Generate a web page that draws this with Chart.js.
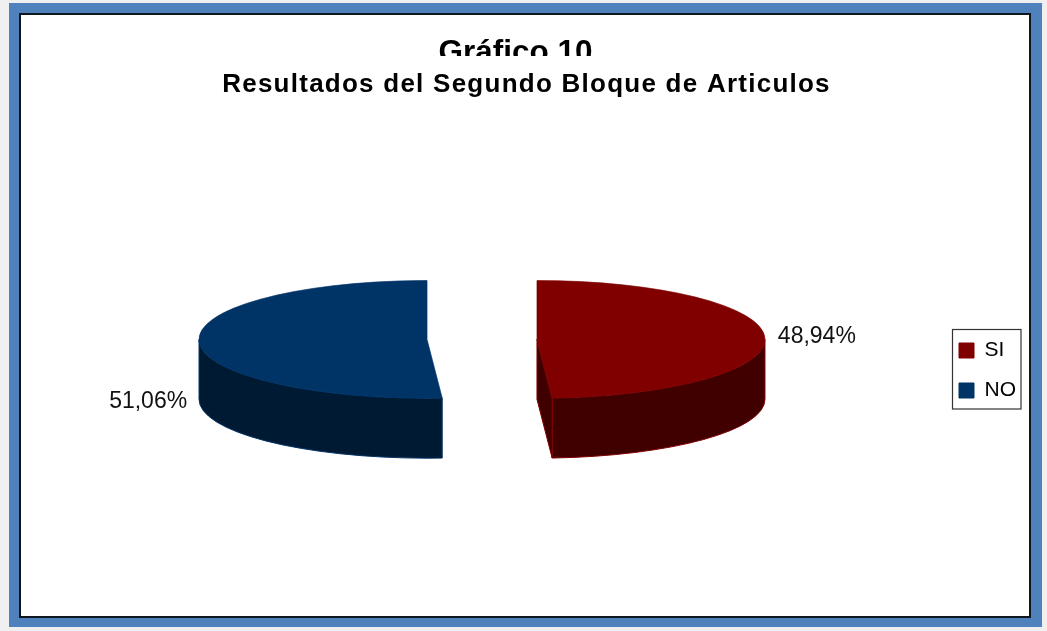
<!DOCTYPE html>
<html>
<head>
<meta charset="utf-8">
<script src="https://cdn.jsdelivr.net/npm/chart.js@4/dist/chart.umd.js"></script>
<style>
  html, body { margin: 0; padding: 0; background: #f0f0f0; }
  #blue { position: absolute; left: 9px; top: 3px; width: 1033px; height: 624px; background: #4f81bd; }
  #inner { position: absolute; left: 19px; top: 13px; width: 1008px; height: 601px; background: #fff; border: 2px solid #10161e; }
  #myChart { position: absolute; left: 0; top: 0; }
</style>
</head>
<body>
<div id="blue"></div>
<div id="inner"></div>
<canvas id="myChart" width="1047" height="631"></canvas>
<script>
var categories = ["SI", "NO"];
var values = [48.94, 51.06];
var topColors = ["#800000", "#003366"];
var wallColors = ["#400000", "#001a33"];

var FONT = "'Liberation Sans', Arial, sans-serif";
var squash = 0.258;
var depth = 60;
var gap = 55;

// pie is laid out flat by chart.js, here it gets squashed, pulled apart and given walls
var pie3d = {
  id: "pie3d",
  afterLayout: function (chart) {
    var ctx = chart.ctx;
    var lg = chart.legend;
    lg.left = 940;
    lg.right = lg.left + lg.width;
    lg.top = 321;
    lg.bottom = lg.top + lg.height;

    var title = chart.titleBlock;
    var sub = chart.boxes.filter(function (b) {
      return b !== title && b.options && b.options.text === subtitleText;
    })[0];
    title.left -= 9.5;
    title.right -= 9.5;
    sub.left += 1.5;
    sub.right += 1.5;
    if (!title.wrapped) {
      title.wrapped = true;
      var drawTitle = title.draw;
      title.draw = function () {
        // the first line is cut at the bottom in the original
        ctx.save();
        ctx.beginPath();
        ctx.rect(0, 0, chart.width, 56);
        ctx.clip();
        drawTitle.call(title);
        ctx.restore();
      };
      var drawSub = sub.draw;
      sub.draw = function () {
        ctx.save();
        ctx.letterSpacing = "1.25px";
        drawSub.call(sub);
        ctx.restore();
      };
    }
  },
  beforeDatasetsDraw: function (chart) {
    var ctx = chart.ctx;
    ctx.strokeStyle = "#333";
    ctx.lineWidth = 1.2;
    ctx.strokeRect(952.5, 329.5, 68.5, 79.5);
  },
  beforeDatasetDraw: function (chart, args) {
    var ctx = chart.ctx;
    var arcs = chart.getDatasetMeta(args.index).data;
    arcs.forEach(function (arc, i) {
      var s = arc.startAngle, e = arc.endAngle, h = (s + e) / 2;
      var r = arc.outerRadius;
      var ax = arc.x + Math.cos(h) * gap;
      var ay = arc.y;
      var a = Math.max(s, 0), b = Math.min(e, Math.PI);
      ctx.fillStyle = wallColors[i];
      ctx.strokeStyle = topColors[i];
      ctx.lineWidth = 1;
      ctx.beginPath();
      ctx.ellipse(ax, ay, r, r * squash, 0, a, b);
      ctx.ellipse(ax, ay + depth, r, r * squash, 0, b, a, true);
      ctx.closePath();
      ctx.fill();
      ctx.stroke();
      if (Math.sin(e) > 0 && Math.cos(e) > 0) {
        var rx = ax + Math.cos(e) * r, ry = ay + Math.sin(e) * r * squash;
        ctx.beginPath();
        ctx.moveTo(ax, ay);
        ctx.lineTo(rx, ry);
        ctx.lineTo(rx, ry + depth);
        ctx.lineTo(ax, ay + depth);
        ctx.closePath();
        ctx.fill();
        ctx.stroke();
      }
      // top face, the library's own arc
      ctx.save();
      ctx.translate(Math.cos(h) * gap, arc.y);
      ctx.scale(1, squash);
      ctx.translate(0, -arc.y);
      arc.draw(ctx);
      ctx.restore();
    });
    return false;
  },
  afterDatasetsDraw: function (chart) {
    var ctx = chart.ctx;
    var arcs = chart.getDatasetMeta(0).data;
    ctx.save();
    ctx.fillStyle = "#111";
    ctx.font = "23px " + FONT;
    ctx.textBaseline = "middle";
    arcs.forEach(function (arc, i) {
      var h = (arc.startAngle + arc.endAngle) / 2;
      var rimX = arc.x + Math.cos(h) * (gap + arc.outerRadius);
      var txt = values[i].toFixed(2).replace(".", ",") + "%";
      if (Math.cos(h) > 0) {
        ctx.textAlign = "left";
        ctx.fillText(txt, rimX + 13, arc.y - 3);
      } else {
        ctx.textAlign = "right";
        ctx.fillText(txt, rimX - 12, arc.y + 62);
      }
    });
    ctx.restore();
  }
};

var titleText = "Gráfico 10";
var subtitleText = "Resultados del Segundo Bloque de Articulos";

new Chart("myChart", {
  type: "pie",
  data: {
    labels: categories,
    datasets: [{
      data: values,
      backgroundColor: topColors,
      borderColor: topColors,
      borderWidth: 1
    }]
  },
  options: {
    responsive: false,
    animation: false,
    radius: 228,
    layout: { padding: { left: 5, right: 2, top: 38, bottom: 63 } },
    plugins: {
      tooltip: { enabled: false },
      title: {
        display: true,
        text: titleText,
        color: "#000",
        font: { family: FONT, size: 31.5, weight: "bold", lineHeight: 1 },
        padding: { top: 0, bottom: 0 }
      },
      subtitle: {
        display: true,
        text: subtitleText,
        color: "#000",
        font: { family: FONT, size: 26, weight: "bold" },
        padding: { top: 0, bottom: 10 }
      },
      legend: {
        position: "right",
        align: "start",
        labels: {
          color: "#000",
          font: { family: FONT, size: 21 },
          boxWidth: 15,
          boxHeight: 15,
          padding: 19
        }
      }
    }
  },
  plugins: [pie3d]
});
</script>
</body>
</html>
